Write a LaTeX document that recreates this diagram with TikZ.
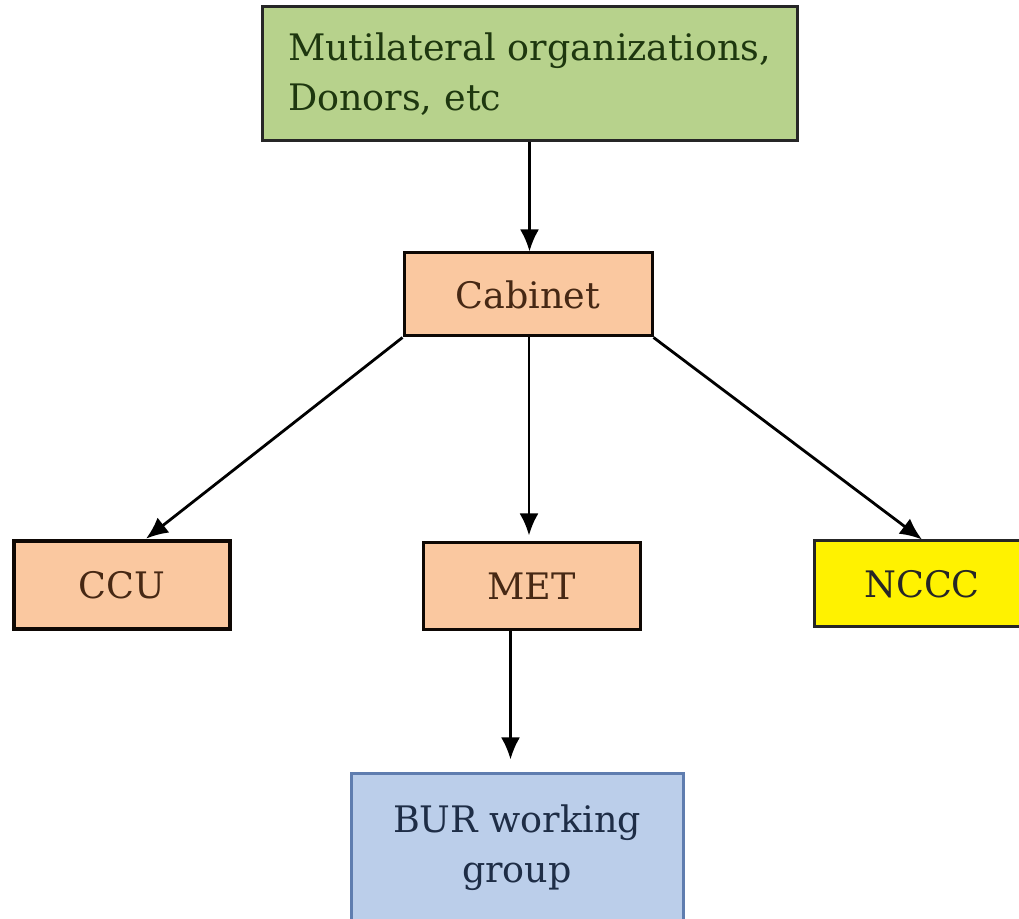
\documentclass[tikz,border=0pt]{standalone}
\usepackage{fontspec}
\setmainfont{DejaVu Serif}
\usepackage{tikz}
\usetikzlibrary{positioning}
\usetikzlibrary{arrows.meta}
\definecolor{peachfill}{RGB}{250,200,160}
\definecolor{peachtext}{RGB}{70,40,20}
\definecolor{greenfill}{RGB}{183,210,140}
\definecolor{greentext}{RGB}{30,55,15}
\definecolor{bluefill}{RGB}{187,206,234}
\definecolor{blueline}{RGB}{95,125,175}
\definecolor{bluetext}{RGB}{30,45,70}
\tikzstyle{box}=[draw,line width=3,inner sep=0,font=\fontsize{36.5}{50}\selectfont]
\tikzstyle{donor}=[box,draw=black!85,fill=greenfill,text=greentext,align=left,
                   text width=483,inner xsep=26]
\tikzstyle{peach}=[box,draw=black!80!peachtext,fill=peachfill,text=peachtext]
\tikzstyle{yell}=[box,draw=black!85,fill=yellow,text=black!85]
\tikzstyle{bur}=[box,draw=blueline,fill=bluefill,text=bluetext,align=center]
\tikzstyle{link}=[-{Latex[length=22,width=19]},line width=2.8]
\tikzset{>=latex}

\begin{document}
\begin{tikzpicture}[x=1pt,y=1pt]
  \useasboundingbox (0,0) rectangle (1019,918);
  \clip (0,0) rectangle (1019,918);

  % BOXES
  \node[donor,minimum height=134] (donors) at (529.5,844) {Mutilateral organizations,\\Donors, etc};
  \node[peach,minimum width=248,minimum height=83] (cabinet) at (528,623.5) {Cabinet};
  \node[peach,line width=4.5,minimum width=216,minimum height=88] (ccu) at (122,333) {CCU};
  \node[peach,minimum width=217,minimum height=87] (met) at (531.5,331.5) {MET};
  \node[yell,minimum width=216,minimum height=86] (nccc) at (922,334) {NCCC};
  \node[bur,minimum width=332,minimum height=150] (bur) at (517,70) {BUR working\\group};

  % ARROWS
  \draw[link] (donors.south) -- (donors.south |- cabinet.north);
  \draw[link] (cabinet.south west) -- ([xshift=24]ccu.north);
  \draw[link,shorten >=6] ([xshift=1]cabinet.south) -- ([xshift=1]cabinet.south |- met.north);
  \draw[link] (cabinet.south east) -- (nccc.north);
  \draw[link,shorten >=12] ([xshift=-21]met.south) -- ([xshift=-21]met.south |- bur.north);

\end{tikzpicture}
\end{document}
